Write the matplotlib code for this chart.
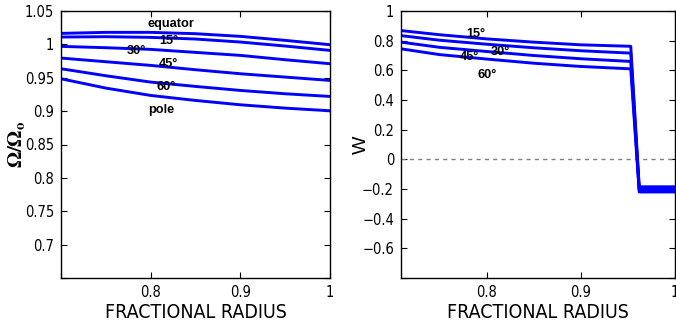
import matplotlib
matplotlib.use("Agg")
import matplotlib.pyplot as plt
from matplotlib import font_manager
from matplotlib.font_manager import FontProperties

# ---- data ----
r_left = [0.70, 0.75, 0.80, 0.85, 0.90, 0.95, 1.00]
omega = {
    "equator": [1.0165, 1.0180, 1.0180, 1.0160, 1.0120, 1.0060, 0.9995],
    "15": [1.0110, 1.0115, 1.0105, 1.0080, 1.0035, 0.9975, 0.9910],
    "30": [0.9970, 0.9950, 0.9925, 0.9880, 0.9835, 0.9770, 0.9710],
    "45": [0.9795, 0.9740, 0.9685, 0.9620, 0.9560, 0.9510, 0.9460],
    "60": [0.9635, 0.9530, 0.9435, 0.9370, 0.9310, 0.9260, 0.9220],
    "pole": [0.9485, 0.9345, 0.9235, 0.9160, 0.9095, 0.9045, 0.9005],
}
omega_labels = ["equator", "15°", "30°", "45°", "60°", "pole"]
omega_label_pos = [(0.8226, 1.031), (0.8207, 1.0045), (0.784, 0.9895),
                   (0.8195, 0.970), (0.8175, 0.936), (0.812, 0.902)]

r_right = [0.709, 0.75, 0.80, 0.85, 0.90, 0.953, 0.962, 1.00]
w = {
    "15": [0.868, 0.840, 0.812, 0.790, 0.772, 0.762, -0.185, -0.185],
    "30": [0.834, 0.803, 0.776, 0.752, 0.732, 0.716, -0.197, -0.197],
    "45": [0.790, 0.755, 0.727, 0.700, 0.678, 0.660, -0.208, -0.208],
    "60": [0.745, 0.706, 0.676, 0.648, 0.626, 0.610, -0.220, -0.220],
}
w_labels = ["15°", "30°", "45°", "60°"]
w_label_pos = [(0.788, 0.846), (0.814, 0.723), (0.782, 0.689), (0.800, 0.570)]

# ---- fonts: look for a narrow sans (matlab-ish helvetica look) ----
def find_narrow():
    prefs = ["Liberation Sans Narrow", "DejaVu Sans", "Roboto Condensed",
             "Open Sans Condensed", "Noto Sans"]
    cands = []
    for f in font_manager.fontManager.ttflist:
        st = str(f.stretch).lower()
        if ("condensed" in st or "narrow" in f.name.lower()
                or "condensed" in f.name.lower()
                or "condensed" in f.fname.lower() or "narrow" in f.fname.lower()):
            if f.style == "normal" and f.weight in (400, "normal", "regular"):
                cands.append(f)
    for p in prefs:
        for f in cands:
            if f.name == p and "mono" not in f.fname.lower():
                return f.fname
    return cands[0].fname if cands else None

narrow_path = find_narrow()

def nfont(size):
    if narrow_path:
        return FontProperties(fname=narrow_path, size=size)
    return FontProperties(family="Liberation Sans", size=size * 0.88)

plt.rcParams["font.family"] = ["Liberation Sans", "DejaVu Sans"]
plt.rcParams["mathtext.fontset"] = "stix"

fig = plt.figure(figsize=(6.76, 3.27), dpi=100)
ax1 = fig.add_axes([61 / 676, 49 / 327, 269 / 676, 267 / 327])
ax2 = fig.add_axes([401 / 676, 49 / 327, 274 / 676, 267 / 327])

for ax in (ax1, ax2):
    ax.tick_params(direction="in", length=4, width=0.8, top=True, right=True, pad=5)
    for s in ax.spines.values():
        s.set_linewidth(1.0)

# ---- left panel ----
for key in omega:
    ax1.plot(r_left, omega[key], color="blue", lw=2.1)
for lab, (x, y) in zip(omega_labels, omega_label_pos):
    ax1.text(x, y, lab, ha="center", va="center", fontsize=9.2,
             fontweight="bold")
ax1.set_xlim(0.7, 1.0)
ax1.set_ylim(0.65, 1.05)
ax1.set_xticks([0.7, 0.8, 0.9, 1.0])
ax1.set_xticklabels(["", "0.8", "0.9", "1"], fontproperties=nfont(10.5))
ax1.set_yticks([0.65, 0.7, 0.75, 0.8, 0.85, 0.9, 0.95, 1.0, 1.05])
ax1.set_yticklabels(["", "0.7", "0.75", "0.8", "0.85", "0.9", "0.95", "1", "1.05"],
                    fontproperties=nfont(10.5))
ax1.set_xlabel("FRACTIONAL RADIUS", fontproperties=nfont(14), labelpad=2)
ax1.set_ylabel(r"$\mathbf{\Omega/\Omega_o}$", fontsize=15)
ax1.yaxis.set_label_coords(-0.125, 0.5)

# ---- right panel ----
ax2.axhline(0, color="gray", ls="--", lw=1, dashes=(3, 3))
for key in w:
    ax2.plot(r_right, w[key], color="blue", lw=2.1)
for lab, (x, y) in zip(w_labels, w_label_pos):
    ax2.text(x, y, lab, ha="center", va="center", fontsize=9.2,
             fontweight="bold")
ax2.set_xlim(0.709, 1.0)
ax2.set_ylim(-0.8, 1.0)
ax2.set_xticks([0.8, 0.9, 1.0])
ax2.set_xticklabels(["0.8", "0.9", "1"], fontproperties=nfont(10.5))
ax2.set_yticks([-0.8, -0.6, -0.4, -0.2, 0, 0.2, 0.4, 0.6, 0.8, 1.0])
ax2.set_yticklabels(["", "\u22120.6", "\u22120.4", "\u22120.2", "0", "0.2", "0.4",
                     "0.6", "0.8", "1"], fontproperties=nfont(10.5))
ax2.set_xlabel("FRACTIONAL RADIUS", fontproperties=nfont(14), labelpad=2)
ax2.set_ylabel("W", fontsize=14)
ax2.yaxis.set_label_coords(-0.115, 0.5)

fig.savefig("out.png", dpi=100)
